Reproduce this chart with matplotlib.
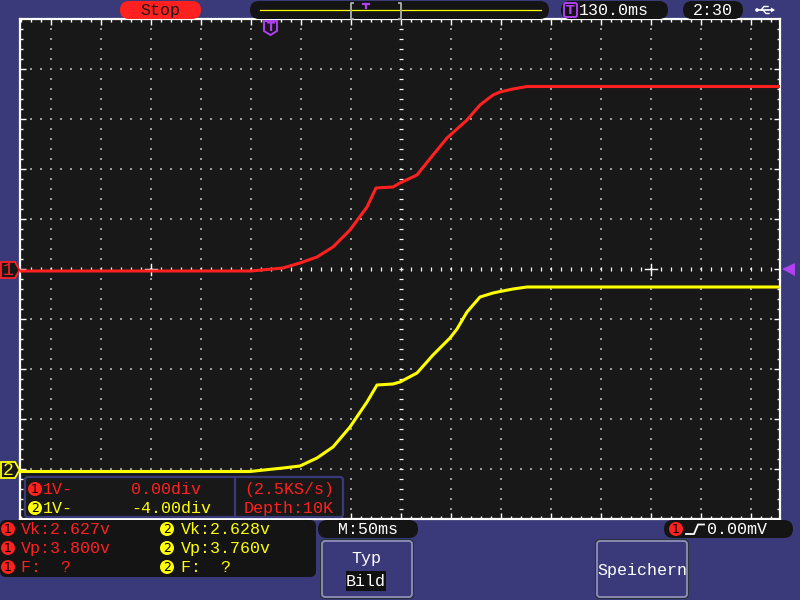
import numpy as np
import matplotlib.pyplot as plt
from matplotlib.patches import FancyBboxPatch, Polygon, Circle, Rectangle

# time in ms from screen centre (M: 50 ms/div), volts at 1 V/div
ch1_t = [-381, -150, -118, -101, -84, -68, -51, -34, -25, -8, -1, 16, 32, 46, 66, 79, 92, 99, 112, 126, 379]
ch1_v = [-0.04, -0.04, 0.02, 0.12, 0.24, 0.44, 0.78, 1.24, 1.62, 1.64, 1.72, 1.88, 2.28, 2.62, 2.98, 3.28,
         3.48, 3.54, 3.60, 3.65, 3.65]
ch2_t = [-381, -151, -118, -101, -84, -68, -51, -34, -24, -8, -1, 16, 32, 49, 56, 66, 79, 92, 99, 112, 126, 379]
ch2_v = [-0.05, -0.05, 0.02, 0.06, 0.22, 0.44, 0.84, 1.34, 1.68, 1.70, 1.74, 1.92, 2.28, 2.62, 2.80, 3.14,
         3.44, 3.52, 3.55, 3.60, 3.64, 3.64]
ch1_offset = 0.0
ch2_offset = -4.0

meas_ch1 = ["Vk:2.627v", "Vp:3.800v", "F:  ?"]
meas_ch2 = ["Vk:2.628v", "Vp:3.760v", "F:  ?"]
info_ch1 = ["1V-", "0.00div"]
info_ch2 = ["1V-", "-4.00div"]
info_acq = ["(2.5KS/s)", "Depth:10K"]

BG = '#3a3a7a'
SCREEN = '#181818'
RED = '#ff2020'
YEL = '#ffff00'
PURPLE = '#b040f0'
MONO = 'Liberation Mono'

fig = plt.figure(figsize=(8, 6), dpi=100, facecolor=BG)

# --- scope screen -------------------------------------------------------
scr = fig.add_axes([20 / 800, 81 / 600, 760 / 800, 500 / 600])
scr.set_facecolor(SCREEN)
scr.set_xlim(-381, 379)
scr.set_ylim(-5, 5)
for sp in scr.spines.values():
    sp.set_color('white')
    sp.set_linewidth(1.6)
scr.set_xticks(np.arange(-350, 351, 50))
scr.set_xticks(np.arange(-380, 380, 10), minor=True)
scr.set_yticks(np.arange(-4, 5, 1))
scr.set_yticks(np.arange(-4.8, 4.9, 0.2), minor=True)
scr.tick_params(which='both', direction='in', top=True, right=True, colors='white',
                labelbottom=False, labelleft=False, width=1)
scr.tick_params(which='major', length=4)
scr.tick_params(which='minor', length=2.2)

# dotted grid
dot_y = np.arange(-4.8, 4.9, 0.2)
dot_x = np.arange(-370, 371, 10)
for gx in np.arange(-350, 351, 50):
    if gx != 0:
        scr.scatter(np.full(len(dot_y), gx), dot_y, s=0.6, marker='s', color='#9a9a9a', lw=0, zorder=2)
for gy in range(-4, 5):
    if gy != 0:
        scr.scatter(dot_x, np.full(len(dot_x), gy), s=0.6, marker='s', color='#9a9a9a', lw=0, zorder=2)
# centre axes with dashes
scr.scatter(dot_x, np.zeros(len(dot_x)), s=9, marker='|', color='white', lw=0.9, zorder=2)
scr.scatter(np.zeros(len(dot_y)), dot_y, s=9, marker='_', color='white', lw=0.9, zorder=2)
for cx in (-250, 250):
    scr.plot([cx - 6, cx + 6], [0, 0], color='white', lw=1, zorder=3)
    scr.plot([cx, cx], [-0.11, 0.11], color='white', lw=1, zorder=3)

# traces
scr.plot(ch1_t, np.array(ch1_v) + ch1_offset, color=RED, lw=2.2, zorder=5)
scr.plot(ch2_t, np.array(ch2_v) + ch2_offset, color=YEL, lw=2.2, zorder=5)

# --- overlay in pixel coordinates ----------------------------------------
ui = fig.add_axes([0, 0, 1, 1], zorder=3)
ui.set_xlim(0, 800)
ui.set_ylim(600, 0)
ui.axis('off')
ui.patch.set_alpha(0)


def box(x0, y0, x1, y1, fc, r, ec='none', lw=0):
    ui.add_patch(FancyBboxPatch((x0, y0), x1 - x0, y1 - y0, boxstyle=f"round,pad=0,rounding_size={r}",
                                fc=fc, ec=ec, lw=lw))


def txt(x, y, s, color='white', ha='left', size=12):
    ui.text(x, y, s, color=color, ha=ha, va='center', fontsize=size, family=MONO)


def num(x, y, n, color):
    ui.add_patch(Circle((x, y), 7, fc=color, ec='none'))
    ui.text(x, y + 0.5, str(n), color='black', ha='center', va='center', fontsize=9, family='DejaVu Sans')


# top bar
box(120, 1, 201, 19, RED, 9)
txt(160, 10, "Stop", color='#1a1a1a', ha='center')
box(250, 1, 549, 19, '#141414', 9)
ui.plot([260, 541], [9.5, 9.5], color=YEL, lw=0.9)
ui.plot([353, 351, 351, 353], [3, 3, 19, 19], color='#b0b0b0', lw=1.3)
ui.plot([399, 401, 401, 399], [3, 3, 19, 19], color='#b0b0b0', lw=1.3)
ui.plot([363, 369], [3.5, 3.5], color=PURPLE, lw=1.6)
ui.plot([366, 366], [3.5, 7.5], color=PURPLE, lw=1.6)

box(561, 1, 668, 19, '#141414', 9)
box(564, 3, 577, 17, 'none', 2, ec=PURPLE, lw=1.4)
ui.text(570.5, 10.5, "T", color=PURPLE, ha='center', va='center', fontsize=9, family='DejaVu Sans', weight='bold')
txt(579, 10.5, "130.0ms")
box(683, 1, 743, 19, '#141414', 9)
txt(713, 10.5, "2:30", ha='center')
# usb symbol
ui.plot([758, 773], [10, 10], color='white', lw=1.2)
ui.add_patch(Circle((757, 10), 1.8, fc='white', ec='none'))
ui.add_patch(Polygon([[771, 7.5], [775, 10], [771, 12.5]], closed=True, fc='white', ec='none'))
ui.plot([761, 764, 768], [10, 6.5, 6.5], color='white', lw=1)
ui.plot([763, 766, 769], [10, 13.5, 13.5], color='white', lw=1)

# trigger position marker on screen
ui.add_patch(Polygon([[264, 21], [277, 21], [277, 31], [270.5, 35], [264, 31]], closed=True,
                     fc=SCREEN, ec=PURPLE, lw=1.4))
ui.text(270.5, 27.5, "T", color=PURPLE, ha='center', va='center', fontsize=8.5, family='DejaVu Sans', weight='bold')

# channel markers
for yc, col, n in ((270, RED, 1), (470, YEL, 2)):
    ui.add_patch(Polygon([[1, yc - 8], [15, yc - 8], [19.5, yc], [15, yc + 8], [1, yc + 8]], closed=True,
                         fc=SCREEN, ec=col, lw=1.3))
    ui.text(8.5, yc + 0.5, str(n), color=col, ha='center', va='center', fontsize=13, family=MONO)
ui.add_patch(Polygon([[782, 269], [795, 263], [795, 276]], closed=True, fc=PURPLE, ec='none'))

# channel info box inside screen
box(25, 477, 343, 517, SCREEN, 3, ec=BG, lw=1.6)
ui.plot([235, 235], [478, 516], color=BG, lw=1.6)
num(35, 489, 1, RED)
txt(43, 489.5, info_ch1[0], color=RED)
txt(131, 489.5, info_ch1[1], color=RED)
num(35, 508, 2, YEL)
txt(43, 508.5, info_ch2[0], color=YEL)
txt(131, 508.5, info_ch2[1], color=YEL)
txt(244, 489.5, info_acq[0], color=RED)
txt(244, 508.5, info_acq[1], color=RED)

# measurement panel
box(0, 520, 316, 577, '#141414', 6)
for i, (a, b) in enumerate(zip(meas_ch1, meas_ch2)):
    yy = 529 + i * 19
    num(8, yy, 1, RED)
    txt(21, yy + 0.5, a, color=RED)
    num(167, yy, 2, YEL)
    txt(181, yy + 0.5, b, color=YEL)

box(318, 520, 418, 538, '#141414', 9)
txt(368, 529.5, "M:50ms", ha='center')
box(664, 520, 793, 538, '#141414', 9)
num(676, 529, 1, RED)
ui.plot([686, 694, 698, 704], [534, 534, 524.5, 524.5], color='white', lw=1.3)
txt(707, 529.5, "0.00mV")

# soft buttons
for x0 in (322, 597):
    box(x0 - 1, 540, x0 + 91, 598, 'none', 3, ec='#203020', lw=1)
    box(x0, 541, x0 + 90, 597, BG, 3, ec='#8a8ab0', lw=1.4)
txt(366, 558, "Typ", ha='center')
ui.add_patch(Rectangle((346, 571), 40, 20, fc='#101010', ec='none'))
txt(366, 581.5, "Bild", ha='center')
txt(642, 570, "Speichern", ha='center')

fig.savefig("out.png", dpi=100, facecolor=BG)
